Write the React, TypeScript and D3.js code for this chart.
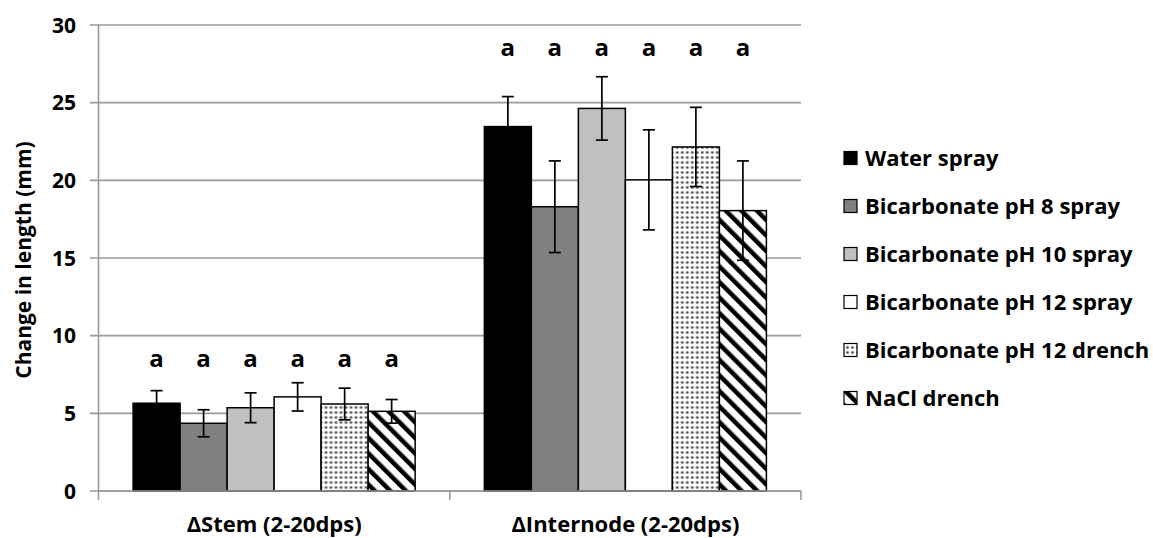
import React from "react";
import * as d3 from "d3";

const categories = ["ΔStem (2-20dps)", "ΔInternode (2-20dps)"];
const seriesNames = [
  "Water spray",
  "Bicarbonate pH 8 spray",
  "Bicarbonate pH 10 spray",
  "Bicarbonate pH 12 spray",
  "Bicarbonate pH 12 drench",
  "NaCl drench",
];
// means per series: [stem, internode]
const waterSpray = [5.65, 23.46];
const bicarb8Spray = [4.36, 18.3];
const bicarb10Spray = [5.36, 24.63];
const bicarb12Spray = [6.06, 20.03];
const bicarb12Drench = [5.6, 22.15];
const naclDrench = [5.13, 18.05];
// error (±) per series
const waterErr = [0.81, 1.93];
const bicarb8Err = [0.87, 2.95];
const bicarb10Err = [0.96, 2.04];
const bicarb12SprayErr = [0.91, 3.22];
const bicarb12DrenchErr = [1.02, 2.55];
const naclErr = [0.76, 3.2];
const letters = ["a", "a"];
const letterLevel = [8, 28];
const yTicks = [0, 5, 10, 15, 20, 25, 30];

const means = [waterSpray, bicarb8Spray, bicarb10Spray, bicarb12Spray, bicarb12Drench, naclDrench];
const errs = [waterErr, bicarb8Err, bicarb10Err, bicarb12SprayErr, bicarb12DrenchErr, naclErr];
const fills = ["#000000", "#808080", "#c0c0c0", "#ffffff", "url(#dots)", "url(#stripes)"];

const W = 1153;
const H = 538;
const FONT = "'Open Sans', sans-serif";

export default function App() {
  const x0 = d3.scaleBand<string>().domain(categories).range([98.5, 801]).paddingInner(0).paddingOuter(0);
  const x1 = d3
    .scaleBand<string>()
    .domain(seriesNames)
    .range([0, x0.bandwidth()])
    .paddingInner(0)
    .paddingOuter(0.736);
  const y = d3.scaleLinear().domain([0, 30]).range([491, 25]);
  const bw = x1.bandwidth();
  const capW = 12;

  return (
    <svg
      width={W}
      height={H}
      style={{ position: "absolute", left: 0, top: 0, background: "#fff" }}
      fontFamily={FONT}
      fontWeight="bold"
    >
      <defs>
        <pattern id="dots" patternUnits="userSpaceOnUse" width={5} height={5}>
          <rect width={5} height={5} fill="#ffffff" />
          <circle cx={2.5} cy={2.5} r={1.7} fill="#b0b0b0" />
          <circle cx={2.5} cy={2.5} r={1} fill="#404040" />
        </pattern>
        <pattern
          id="stripes"
          patternUnits="userSpaceOnUse"
          width={11}
          height={11}
          patternTransform="rotate(-45)"
        >
          <rect width={11} height={11} fill="#ffffff" />
          <rect x={0} y={0} width={4.5} height={11} fill="#000000" />
        </pattern>
      </defs>

      {/* gridlines */}
      {yTicks.map((t) => (
        <line
          key={"g" + t}
          x1={90}
          x2={801}
          y1={y(t)}
          y2={y(t)}
          stroke="#9a9a9a"
          strokeWidth={1.6}
        />
      ))}
      {/* y axis */}
      <line x1={98.5} x2={98.5} y1={y(30)} y2={y(0)} stroke="#9a9a9a" strokeWidth={1.6} />
      {/* x-axis ticks */}
      {[98.5, 98.5 + x0.bandwidth(), 801].map((xx, i) => (
        <line key={"xt" + i} x1={xx} x2={xx} y1={y(0)} y2={y(0) + 9} stroke="#9a9a9a" strokeWidth={1.6} />
      ))}

      {/* bars */}
      {categories.map((c, ci) => (
        <g key={c} transform={`translate(${x0(c)},0)`}>
          {seriesNames.map((s, si) => (
            <rect
              key={s}
              x={x1(s)}
              y={y(means[si][ci])}
              width={bw}
              height={y(0) - y(means[si][ci])}
              fill={fills[si]}
              stroke="#000"
              strokeWidth={1.5}
            />
          ))}
          {seriesNames.map((s, si) => {
            const cx = (x1(s) as number) + bw / 2;
            const top = y(means[si][ci] + errs[si][ci]);
            const bot = y(means[si][ci] - errs[si][ci]);
            return (
              <g key={"e" + s} stroke="#000" strokeWidth={1.7}>
                <line x1={cx} x2={cx} y1={top} y2={bot} />
                <line x1={cx - capW / 2} x2={cx + capW / 2} y1={top} y2={top} />
                <line x1={cx - capW / 2} x2={cx + capW / 2} y1={bot} y2={bot} />
              </g>
            );
          })}
          {seriesNames.map((s) => (
            <text
              key={"l" + s}
              x={(x1(s) as number) + bw / 2}
              y={y(letterLevel[ci])}
              textAnchor="middle"
              fontSize={24}
              fill="#000"
            >
              {letters[ci]}
            </text>
          ))}
        </g>
      ))}

      {/* x axis baseline */}
      <line x1={98.5} x2={801} y1={y(0)} y2={y(0)} stroke="#9a9a9a" strokeWidth={1.6} />

      {/* y tick labels */}
      {yTicks.map((t) => (
        <text key={"yl" + t} x={76} y={y(t)} dy="0.36em" textAnchor="end" fontSize={21} fill="#000">
          {t}
        </text>
      ))}

      {/* category labels */}
      {categories.map((c) => (
        <text
          key={"cl" + c}
          x={(x0(c) as number) + x0.bandwidth() / 2}
          y={532}
          textAnchor="middle"
          fontSize={22}
          fill="#000"
        >
          {c}
        </text>
      ))}

      {/* y axis title */}
      <text
        transform={`translate(31,260) rotate(-90)`}
        textAnchor="middle"
        fontSize={21}
        fill="#000"
      >
        Change in length (mm)
      </text>

      {/* legend */}
      {seriesNames.map((s, i) => {
        const cy = 158 + i * 48;
        return (
          <g key={"lg" + s}>
            <rect x={844} y={cy - 6.5} width={13} height={13} fill={fills[i]} stroke="#000" strokeWidth={1.2} />
            <text x={865} y={cy} dy="0.36em" fontSize={22} fill="#000">
              {s}
            </text>
          </g>
        );
      })}
    </svg>
  );
}
